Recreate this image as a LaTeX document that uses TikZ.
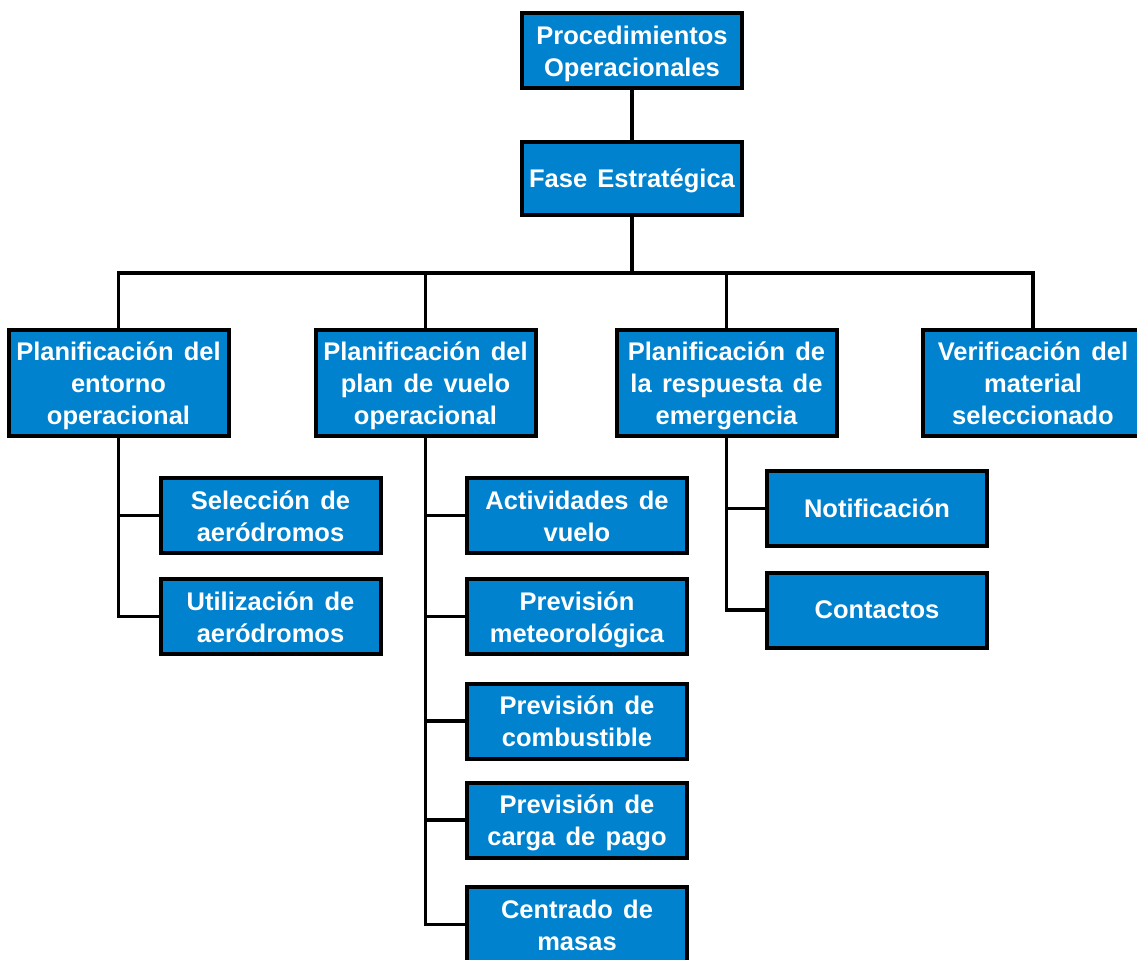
\documentclass[tikz,border=0pt]{standalone}
\usepackage{fontspec}
\setmainfont{Liberation Sans}[WordSpace=1.45]
\definecolor{boxblue}{RGB}{0,130,206}
% centred lines of box text; the first row is given extra height
% so that the text sits a little below the middle of its box
\newcommand{\bxt}[2][30.4pt]{\begin{tabular}{@{}c@{}}\rule{0pt}{#1}#2\end{tabular}}
\begin{document}
\begin{tikzpicture}[x=1pt,y=-1pt,
  box/.style={draw=black, line width=4pt, fill=boxblue, text=white,
    font=\bfseries\fontsize{25.5}{32}\selectfont,
    inner sep=0pt, minimum width=220pt},
  lv3/.style={box, minimum height=75pt},
  lv2/.style={box, minimum height=106pt},
  link/.style={draw=black, line width=3.5pt}]
\useasboundingbox (0,0) rectangle (1137,959);
\clip (0,0) rectangle (1137,959);

% root and phase
\node[box, minimum height=75pt] (root) at (632,50.5) {\bxt{Procedimientos\\Operacionales}};
\node[box, minimum height=73pt] (fase) at (632,178.5) {\bxt[27pt]{Fase Estratégica}};
\coordinate (bus) at (632,273);

% second level
\node[lv2] (entorno) at (118.5,382.5) {\bxt{Planificación del\\entorno\\operacional}};
\node[lv2] (plan) at (425.5,382.5) {\bxt{Planificación del\\plan de vuelo\\operacional}};
\node[lv2] (resp) at (726.5,382.5) {\bxt{Planificación de\\la respuesta de\\emergencia}};
\node[lv2] (verif) at (1033,382.5) {\bxt{Verificación del\\material\\seleccionado}};

% children of the operating environment
\node[lv3] (selec) at (270.5,515.5) {\bxt[29pt]{Selección de\\aeródromos}};
\node[lv3] (util) at (270.5,616.5) {\bxt[29pt]{Utilización de\\aeródromos}};

% children of the flight plan
\node[lv3] (activ) at (577,515.5) {\bxt[29pt]{Actividades de\\vuelo}};
\node[lv3] (meteo) at (577,616.5) {\bxt[29pt]{Previsión\\meteorológica}};
\node[lv3] (comb) at (577,721) {\bxt[29pt]{Previsión de\\combustible}};
\node[lv3] (carga) at (577,820) {\bxt[29pt]{Previsión de\\carga de pago}};
\node[lv3] (masas) at (577,924.5) {\bxt[29pt]{Centrado de\\masas}};

% children of the emergency response
\node[lv3] (notif) at (877,508.5) {\bxt[27pt]{Notificación}};
\node[lv3] (cont) at (877,610) {\bxt[27pt]{Contactos}};

% connectors
\path[link] (root.south) -- (fase.north);
\path[link] (fase.south) -- (bus);
\path[link] (entorno.north) |- (bus) -| (verif.north);
\path[link] (plan.north) -- (plan.north |- bus);
\path[link] (resp.north) -- (resp.north |- bus);

\path[link] (entorno.south) |- (util.west);
\path[link] (selec.west) -- (selec.west -| entorno.south);

\path[link] (plan.south) |- (masas.west);
\path[link] (activ.west) -- (activ.west -| plan.south);
\path[link] (meteo.west) -- (meteo.west -| plan.south);
\path[link] (comb.west) -- (comb.west -| plan.south);
\path[link] (carga.west) -- (carga.west -| plan.south);

\path[link] (resp.south) |- (cont.west);
\path[link] (notif.west) -- (notif.west -| resp.south);
\end{tikzpicture}
\end{document}
